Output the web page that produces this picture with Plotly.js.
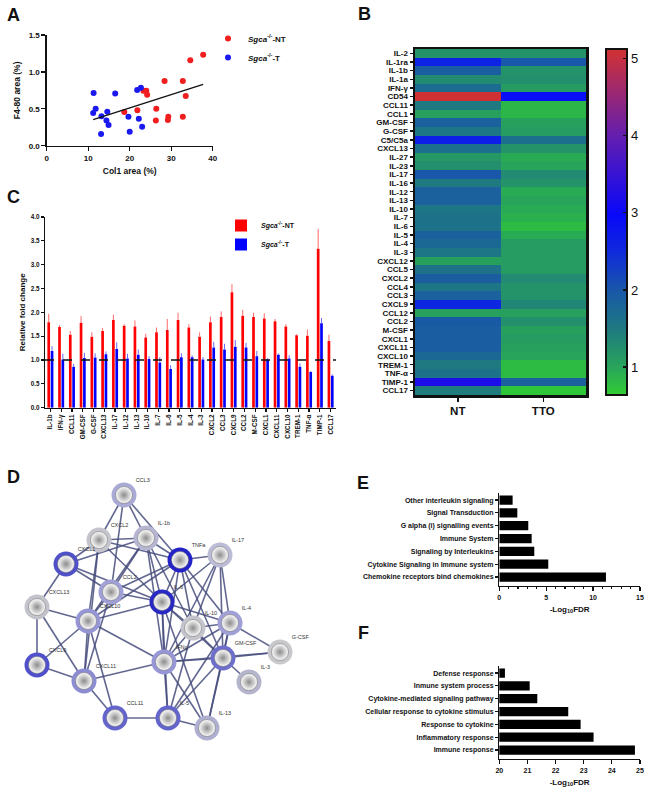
<!DOCTYPE html>
<html>
<head>
<meta charset="utf-8">
<script src="https://cdn.plot.ly/plotly-3.0.1.min.js"></script>
<style>html,body{margin:0;padding:0;background:#fff;}#chart{width:654px;height:788px;}</style>
</head>
<body>
<div id="chart"></div>
<script>
// ---------- Panel A data ----------
const ntCol1 = [18.7, 21.85, 23.3, 24.0, 24.2, 28.4, 26.4, 26.3, 29.2, 29.3, 32.8, 33.5, 32.8, 34.6, 37.7];
const ntF480 = [0.456, 0.479, 0.745, 0.745, 0.69, 0.877, 0.50, 0.343, 0.348, 0.393, 0.877, 0.673, 0.393, 1.157, 1.233];
const tCol1 = [11.3, 11.8, 11.2, 13.2, 13.1, 14.6, 14.4, 14.9, 16.5, 19.7, 20.0, 21.8, 22.7, 22.2, 23.0];
const tF480 = [0.714, 0.50, 0.443, 0.40, 0.158, 0.46, 0.34, 0.28, 0.709, 0.393, 0.19, 0.754, 0.786, 0.366, 0.257];

// ---------- Panel B data ----------
const heatRows = ['IL-2','IL-1ra','IL-1b','IL-1a','IFN-γ','CD54','CCL11','CCL1','GM-CSF','G-CSF','C5/C5a','CXCL13','IL-27','IL-23','IL-17','IL-16','IL-12','IL-13','IL-10','IL-7','IL-6','IL-5','IL-4','IL-3','CXCL12','CCL5','CXCL2','CCL4','CCL3','CXCL9','CCL12','CCL2','M-CSF','CXCL1','CXCL11','CXCL10','TREM-1','TNF-α','TIMP-1','CCL17'];
const heatCols = ['NT','TTO'];
const ntHeat  = [1.2, 2.6, 1.9, 1.3, 1.7, 5.1, 1.5, 1.05, 1.85, 1.55, 2.65, 1.65, 1.15, 1.25, 2.0, 1.5, 1.85, 1.85, 1.55, 1.6, 1.6, 1.85, 1.75, 1.55, 1.05, 1.6, 1.9, 1.55, 1.85, 2.55, 1.05, 1.95, 1.9, 1.9, 1.9, 1.75, 1.5, 1.6, 3.2, 1.45];
const ttoHeat = [1.2, 2.0, 1.2, 1.25, 1.1, 2.9, 0.85, 0.85, 1.05, 1.1, 1.65, 1.2, 0.95, 1.0, 1.3, 1.2, 0.95, 1.0, 0.95, 0.9, 0.8, 0.95, 1.1, 1.1, 1.1, 1.1, 1.3, 1.2, 1.2, 1.35, 1.05, 1.25, 1.05, 1.1, 1.05, 1.0, 0.8, 0.8, 1.85, 0.7];
const heatTicks = [1, 2, 3, 4, 5];

// ---------- Panel C data ----------
const foldCats = ['IL-1b','IFN-γ','CCL11','GM-CSF','G-CSF','CXCL13','IL-17','IL-12','IL-13','IL-10','IL-7','IL-6','IL-5','IL-4','IL-3','CXCL2','CCL3','CXCL9','CCL2','M-CSF','CXCL1','CXCL11','CXCL10','TREM-1','TNF-α','TIMP-1','CCL17'];
const foldNT    = [1.79, 1.69, 1.53, 1.78, 1.49, 1.61, 1.84, 1.72, 1.70, 1.47, 1.58, 1.63, 1.84, 1.68, 1.49, 1.79, 1.90, 2.42, 1.93, 1.90, 1.87, 1.81, 1.70, 1.52, 1.51, 3.33, 1.40];
const foldNTsem = [0.18, 0.04, 0.08, 0.14, 0.09, 0.06, 0.11, 0.03, 0.13, 0.08, 0.10, 0.23, 0.15, 0.07, 0.09, 0.12, 0.12, 0.17, 0.12, 0.09, 0.11, 0.05, 0.05, 0.02, 0.13, 0.42, 0.13];
const foldT     = [1.19, 1.01, 0.86, 1.04, 1.05, 1.12, 1.23, 1.03, 1.11, 1.02, 0.95, 0.81, 1.06, 1.06, 1.01, 1.26, 1.22, 1.28, 1.26, 1.08, 1.01, 1.11, 1.03, 0.86, 0.75, 1.77, 0.67];
const foldTsem  = [0.10, 0.12, 0.06, 0.11, 0.09, 0.06, 0.14, 0.10, 0.11, 0.06, 0.11, 0.08, 0.08, 0.04, 0.05, 0.12, 0.12, 0.14, 0.10, 0.11, 0.03, 0.03, 0.07, 0.07, 0.02, 0.11, 0.03];

// ---------- Panel D data (network) ----------
const nodeNames = ['CCL3','CXCL2','IL-1b','TNFa','IL-17','CXCL1','CCL2','IL-6','CXCL13','CXCL10','IL-10','IL-4','G-CSF','GM-CSF','IFNg','CXCL9','CXCL11','IL-3','CCL11','IL-5','IL-13'];
const nodeX = [124, 99, 146, 180, 220, 66, 111, 162, 37, 88, 193, 230, 280, 223, 164, 37, 84, 249, 115, 168, 207];
const nodeY = [495, 540, 538, 560, 555, 564, 592, 602, 607, 621, 628, 623, 652, 658, 662, 665, 681, 682, 718, 718, 728];
const edges = [
  ['CCL3','CXCL2'],['CCL3','IL-1b'],['CCL3','TNFa'],['CCL3','CCL2'],
  ['CXCL1','CXCL2'],['CXCL1','IL-1b'],['CXCL1','CXCL13'],['CXCL1','IL-6'],['CXCL1','CCL2'],
  ['CXCL2','IL-1b'],['CXCL2','TNFa'],['CXCL2','CXCL10'],['CXCL2','CXCL11'],['CXCL2','IL-6'],
  ['IL-1b','TNFa'],['IL-1b','IL-6'],['IL-1b','CCL2'],['IL-1b','IL-10'],['IL-1b','IFNg'],['IL-1b','CXCL10'],
  ['TNFa','IL-17'],['TNFa','IL-6'],['TNFa','CCL2'],['TNFa','IL-10'],['TNFa','IL-4'],['TNFa','IFNg'],['TNFa','GM-CSF'],['TNFa','CXCL10'],
  ['IL-17','IL-6'],['IL-17','IL-4'],['IL-17','IL-10'],['IL-17','IFNg'],['IL-17','GM-CSF'],
  ['CCL2','IL-6'],['CCL2','CXCL10'],['CCL2','CXCL11'],
  ['CXCL13','CXCL10'],['CXCL13','CXCL9'],['CXCL13','CXCL11'],
  ['CXCL10','IL-6'],['CXCL10','IFNg'],['CXCL10','CXCL9'],['CXCL10','CXCL11'],['CXCL10','CCL11'],
  ['IL-6','IL-10'],['IL-6','IFNg'],['IL-6','GM-CSF'],['IL-6','IL-4'],['IL-6','IL-5'],['IL-6','IL-13'],
  ['IL-10','IL-4'],['IL-10','IFNg'],['IL-10','GM-CSF'],['IL-10','IL-5'],
  ['IL-4','G-CSF'],['IL-4','GM-CSF'],['IL-4','IFNg'],['IL-4','IL-5'],['IL-4','IL-13'],
  ['GM-CSF','G-CSF'],['GM-CSF','IL-3'],['GM-CSF','IFNg'],['GM-CSF','IL-5'],['GM-CSF','IL-13'],
  ['IFNg','G-CSF'],['IFNg','CXCL11'],['IFNg','IL-5'],['IFNg','IL-13'],
  ['CXCL9','CXCL11'],['CXCL11','CCL11'],['CCL11','IL-5'],['IL-5','IL-13']
];

// ---------- Panel E data ----------
const eTerms = ['Other interleukin signaling','Signal Transduction','G alpha (i) signalling events','Immune System','Signaling by Interleukins','Cytokine Signaling in Immune system','Chemokine receptors bind chemokines'];
const eLogFDR = [1.42, 1.92, 3.09, 3.45, 3.73, 5.22, 11.37];

// ---------- Panel F data ----------
const fTerms = ['Defense response','Inmune system process','Cytokine-mediated signaling pathway','Cellular response to cytokine stimulus','Response to cytokine','Inflammatory response','Immune response'];
const fLogFDR = [20.2, 21.08, 21.35, 22.45, 22.89, 23.35, 24.82];

// ================= styling & construction =================
const FONT = 'Liberation Sans, Arial, sans-serif';
const W = 654, H = 788;
const xd = (a, b) => [a / W, b / W];
const yd = (top, bottom) => [1 - bottom / H, 1 - top / H];
const bold = (s) => ({family: FONT, size: s, color: '#111', weight: 'bold'});

const RED = '#f01e1e', BLUE = '#1a1af0';

// regression for panel A
const allX = ntCol1.concat(tCol1), allY = ntF480.concat(tF480);
const n = allX.length;
const mx = allX.reduce((a, b) => a + b, 0) / n, my = allY.reduce((a, b) => a + b, 0) / n;
let sxy = 0, sxx = 0;
for (let i = 0; i < n; i++) { sxy += (allX[i] - mx) * (allY[i] - my); sxx += (allX[i] - mx) ** 2; }
const slope = sxy / sxx, icpt = my - slope * mx;
const xmin = Math.min(...allX), xmax = Math.max(...allX);

// network edges
const ex = [], ey = [];
edges.forEach(([a, b]) => {
  const i = nodeNames.indexOf(a), j = nodeNames.indexOf(b);
  ex.push(nodeX[i], nodeX[j], null); ey.push(nodeY[i], nodeY[j], null);
});
const ringColors = ['#aaaad7','#c4c4cd','#b6b6d3','#2323c8','#bcbcd6','#5050c8','#a0a0d6','#2828c4','#c3c3cc','#9696d6','#c4c4cd','#a0a0d6','#c8c8cd','#6e6ecd','#9696d6','#5050cd','#8c8cd2','#b4b4cd','#6464cd','#6464cd','#afafd2'];

const sgcaNT = '<b><i>Sgca</i><sup>-/-</sup>-NT</b>';
const sgcaT = '<b><i>Sgca</i><sup>-/-</sup>-T</b>';

const traces = [
  // A
  {type: 'scatter', mode: 'markers', x: ntCol1, y: ntF480, xaxis: 'x', yaxis: 'y', name: sgcaNT, legend: 'legend',
   marker: {color: RED, size: 6}},
  {type: 'scatter', mode: 'markers', x: tCol1, y: tF480, xaxis: 'x', yaxis: 'y', name: sgcaT, legend: 'legend',
   marker: {color: BLUE, size: 6}},
  {type: 'scatter', mode: 'lines', x: [xmin, xmax], y: [icpt + slope * xmin, icpt + slope * xmax], xaxis: 'x', yaxis: 'y',
   line: {color: '#111', width: 1.3}, showlegend: false},
  // B
  {type: 'heatmap', x: heatCols, y: heatRows, z: heatRows.map((r, i) => [ntHeat[i], ttoHeat[i]]), xaxis: 'x2', yaxis: 'y2',
   zmin: 0.64, zmax: 5.12, showlegend: false,
   colorscale: [[0, 'rgb(50,205,50)'], [0.08, 'rgb(40,165,90)'], [0.19, 'rgb(30,122,128)'], [0.30, 'rgb(25,88,168)'],
                [0.42, 'rgb(15,40,222)'], [0.52, 'rgb(8,8,250)'], [0.75, 'rgb(100,30,175)'], [1, 'rgb(210,50,50)']],
   colorbar: {x: 605.7 / W, xanchor: 'left', xpad: 0, y: 1 - 222 / H, yanchor: 'middle', ypad: 0,
              thickness: 21, thicknessmode: 'pixels', len: 346, lenmode: 'pixels',
              outlinewidth: 2, outlinecolor: '#111', tickvals: heatTicks, ticks: 'inside', ticklen: 5, tickwidth: 1.5, tickcolor: '#111',
              tickfont: {family: FONT, size: 13, color: '#111'}}},
  // C
  {type: 'bar', x: foldCats, y: foldNT, xaxis: 'x3', yaxis: 'y3', name: sgcaNT, legend: 'legend2', marker: {color: '#ff0000'},
   error_y: {type: 'data', symmetric: false, array: foldNTsem, arrayminus: foldNTsem.map(() => 0), color: '#ff6a6a', thickness: 1, width: 0}},
  {type: 'bar', x: foldCats, y: foldT, xaxis: 'x3', yaxis: 'y3', name: sgcaT, legend: 'legend2', marker: {color: '#0000ff'},
   error_y: {type: 'data', symmetric: false, array: foldTsem, arrayminus: foldTsem.map(() => 0), color: '#6a6aff', thickness: 1, width: 0}},
  // D
  {type: 'scatter', mode: 'lines', x: ex, y: ey, xaxis: 'x4', yaxis: 'y4', showlegend: false, hoverinfo: 'skip',
   line: {color: 'rgba(70,76,125,0.85)', width: 1.6}},
  {type: 'scatter', mode: 'markers', x: nodeX, y: nodeY, xaxis: 'x4', yaxis: 'y4', showlegend: false,
   marker: {size: 25, color: ringColors, line: {width: 0}}},
  {type: 'scatter', mode: 'markers+text', x: nodeX, y: nodeY, xaxis: 'x4', yaxis: 'y4', showlegend: false,
   text: nodeNames, textposition: 'top right', textfont: {family: FONT, size: 5.5, color: '#333'},
   marker: {size: 17, color: '#ffffff', gradient: {type: 'radial', color: '#8c8c8c'}, line: {width: 0.6, color: '#777'}}},
  // E
  {type: 'bar', orientation: 'h', y: eTerms, x: eLogFDR, xaxis: 'x5', yaxis: 'y5', width: 0.72, showlegend: false, marker: {color: '#000'}},
  // F
  {type: 'bar', orientation: 'h', y: fTerms, x: fLogFDR, xaxis: 'x6', yaxis: 'y6', width: 0.72, showlegend: false, marker: {color: '#000'}}
];

const baseAx = (o) => Object.assign({showline: true, linecolor: '#111', linewidth: 1.3, ticks: 'outside', ticklen: 4, tickwidth: 1.2,
  tickcolor: '#111', showgrid: false, zeroline: false, automargin: false, fixedrange: true}, o);
const hidden = (o) => Object.assign({visible: false, showgrid: false, zeroline: false, fixedrange: true}, o);

const layout = {
  width: W, height: H, margin: {l: 0, r: 0, t: 0, b: 0}, paper_bgcolor: '#fff', plot_bgcolor: 'rgba(0,0,0,0)',
  font: {family: FONT, color: '#111'}, showlegend: true,
  barmode: 'group', bargap: 0.38, bargroupgap: 0.2,
  // A
  xaxis: baseAx({domain: xd(46.7, 212.7), range: [0, 40], dtick: 10, anchor: 'y', tickfont: bold(8),
    title: {text: '<b>Col1 area (%)</b>', font: bold(8.5), standoff: 6}}),
  yaxis: baseAx({domain: yd(35, 145.7), range: [0, 1.5], dtick: 0.5, tickformat: '.1f', anchor: 'x', tickfont: bold(8),
    title: {text: '<b>F4-80 area (%)</b>', font: bold(8.5), standoff: 6}}),
  // B
  xaxis2: baseAx({domain: xd(415, 586), anchor: 'y2', mirror: true, linewidth: 2.5, ticklen: 4, tickwidth: 1.5, tickfont: bold(11.5)}),
  yaxis2: baseAx({domain: yd(49, 395), anchor: 'x2', mirror: true, linewidth: 2.5, autorange: 'reversed', ticklen: 3, tickwidth: 1.5,
    tickfont: bold(8), dtick: 1}),
  // C
  xaxis3: baseAx({domain: xd(45, 336), anchor: 'y3', tickangle: -90, ticklen: 3, tickfont: bold(6.3)}),
  yaxis3: baseAx({domain: yd(216.9, 407.7), range: [0, 4], dtick: 0.5, tickformat: '.1f', anchor: 'x3', ticklen: 3, tickfont: bold(6.3),
    title: {text: '<b>Relative fold change</b>', font: bold(8), standoff: 4}}),
  // D
  xaxis4: hidden({domain: xd(0, 330), range: [0, 330], anchor: 'y4'}),
  yaxis4: hidden({domain: [0, 1 - 470 / H], range: [788, 470], anchor: 'x4'}),
  // E
  xaxis5: baseAx({domain: xd(499.3, 640), range: [0, 15], dtick: 5, anchor: 'y5', tickfont: bold(7), ticklen: 4,
    minor: {dtick: 1, ticks: 'outside', ticklen: 2, tickcolor: '#111'},
    title: {text: '<b>-Log<sub>10</sub>FDR</b>', font: bold(8), standoff: 6}}),
  yaxis5: baseAx({domain: yd(493, 586), range: [6.7, -0.55], anchor: 'x5', ticklen: 3, tickfont: bold(7)}),
  // F
  xaxis6: baseAx({domain: xd(499.3, 640), range: [20, 25], dtick: 1, anchor: 'y6', tickfont: bold(7), ticklen: 4,
    title: {text: '<b>-Log<sub>10</sub>FDR</b>', font: bold(8), standoff: 6}}),
  yaxis6: baseAx({domain: yd(666, 759), range: [6.7, -0.55], anchor: 'x6', ticklen: 3, tickfont: bold(7)}),
  legend: {x: 208 / W, y: 1 - 24 / H, xanchor: 'left', yanchor: 'top', bgcolor: 'rgba(0,0,0,0)', font: {family: FONT, size: 8, color: '#111'},
    itemwidth: 30, tracegroupgap: 0},
  legend2: {x: 221 / W, y: 1 - 211 / H, xanchor: 'left', yanchor: 'top', bgcolor: 'rgba(0,0,0,0)', font: {family: FONT, size: 7, color: '#111'},
    itemwidth: 30, tracegroupgap: 0},
  shapes: [
    {type: 'line', xref: 'x3 domain', yref: 'y3', x0: 0, x1: 1, y0: 1, y1: 1, line: {color: '#111', width: 1.4, dash: 'dash'}}
  ],
  annotations: [
    ['A', 13, 15], ['B', 364, 14], ['C', 13, 197], ['D', 13, 477], ['E', 363, 483], ['F', 363, 633]
  ].map(([t, x, y]) => ({text: '<b>' + t + '</b>', xref: 'paper', yref: 'paper', x: x / W, y: 1 - y / H, showarrow: false,
    xanchor: 'center', yanchor: 'middle', font: {family: FONT, size: 18, color: '#111', weight: 'bold'}}))
};

Plotly.newPlot('chart', traces, layout, {staticPlot: true, displayModeBar: false});
</script>
</body>
</html>
